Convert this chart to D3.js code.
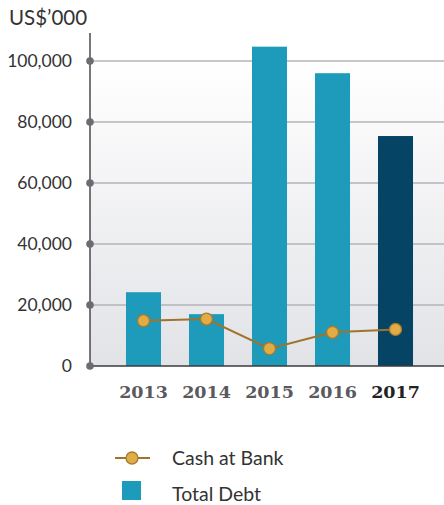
<!DOCTYPE html>
<html>
<head>
<meta charset="utf-8">
<script src="https://cdn.jsdelivr.net/npm/d3@7"></script>
<style>
  body { margin: 0; background: #fff; }
  svg { display: block; }
</style>
</head>
<body>
<div id="chart"></div>
<script>
// values (US$'000)
var years = ["2013", "2014", "2015", "2016", "2017"];
var totalDebt = [24200, 17000, 104700, 96000, 75400];
var cashAtBank = [14850, 15400, 5700, 11050, 12000];
var yTicks = [0, 20000, 40000, 60000, 80000, 100000];

var svgWidth = 444, svgHeight = 505;
var plotLeft = 90, plotRight = 444, plotTop = 61, plotBottom = 366;

var svg = d3.select("#chart").append("svg")
    .attr("width", svgWidth)
    .attr("height", svgHeight);

var defs = svg.append("defs");
var grad = defs.append("linearGradient")
    .attr("id", "bg").attr("x1", 0).attr("y1", 0).attr("x2", 0).attr("y2", 1);
grad.append("stop").attr("offset", "0%").attr("stop-color", "#ffffff");
grad.append("stop").attr("offset", "100%").attr("stop-color", "#e2e3e7");

var x = d3.scaleBand()
    .domain(years)
    .range([112, 427])
    .paddingInner(0.444)
    .paddingOuter(0.222);

var y = d3.scaleLinear()
    .domain([0, 100000])
    .range([plotBottom, plotTop]);

// plot background
svg.append("rect")
    .attr("x", plotLeft).attr("y", plotTop)
    .attr("width", plotRight - plotLeft).attr("height", plotBottom - plotTop)
    .attr("fill", "url(#bg)");

// grid lines
svg.append("g").selectAll("line")
    .data(yTicks.slice(1))
    .enter().append("line")
    .attr("x1", plotLeft).attr("x2", plotRight)
    .attr("y1", function (d) { return y(d); })
    .attr("y2", function (d) { return y(d); })
    .attr("stroke", "#b3b3bb")
    .attr("stroke-width", 1.5);

// bars
svg.append("g").selectAll("rect")
    .data(totalDebt)
    .enter().append("rect")
    .attr("x", function (d, i) { return x(years[i]); })
    .attr("y", function (d) { return y(d); })
    .attr("width", x.bandwidth())
    .attr("height", function (d) { return plotBottom - y(d); })
    .attr("fill", function (d, i) { return i == years.length - 1 ? "#054464" : "#1e9bbb"; });

// axes
svg.append("line")
    .attr("x1", plotLeft).attr("x2", plotLeft)
    .attr("y1", 33).attr("y2", plotBottom)
    .attr("stroke", "#4a4a4e").attr("stroke-width", 1.5);
svg.append("line")
    .attr("x1", plotLeft).attr("x2", plotRight)
    .attr("y1", plotBottom).attr("y2", plotBottom)
    .attr("stroke", "#3a3a3e").attr("stroke-width", 1.5);

var yAxis = svg.append("g");
yAxis.selectAll("circle")
    .data(yTicks)
    .enter().append("circle")
    .attr("cx", plotLeft)
    .attr("cy", function (d) { return y(d); })
    .attr("r", 3.8)
    .attr("fill", "#6b6b70");
yAxis.selectAll("text")
    .data(yTicks)
    .enter().append("text")
    .attr("x", 72)
    .attr("y", function (d) { return y(d); })
    .attr("dy", "0.34em")
    .attr("text-anchor", "end")
    .attr("font-family", "Lato, sans-serif")
    .attr("font-size", 17.5)
    .attr("fill", "#333")
    .text(function (d) { return d3.format(",")(d); });

svg.append("text")
    .attr("x", 9).attr("y", 25)
    .attr("font-family", "Lato, sans-serif")
    .attr("font-size", 20.5)
    .attr("fill", "#333")
    .text("US$\u2019000");

// x labels
svg.append("g").selectAll("text")
    .data(years)
    .enter().append("text")
    .attr("x", function (d) { return x(d) + x.bandwidth() / 2; })
    .attr("y", 398)
    .attr("text-anchor", "middle")
    .attr("font-family", "'DejaVu Serif', serif")
    .attr("font-weight", "bold")
    .attr("font-size", 17.5)
    .attr("fill", function (d, i) { return i == years.length - 1 ? "#222" : "#5a5a5e"; })
    .text(function (d) { return d; });

// cash line
var line = d3.line()
    .x(function (d, i) { return x(years[i]) + x.bandwidth() / 2; })
    .y(function (d) { return y(d); });

svg.append("path")
    .datum(cashAtBank)
    .attr("d", line)
    .attr("fill", "none")
    .attr("stroke", "#a0732d")
    .attr("stroke-width", 2);

svg.append("g").selectAll("circle")
    .data(cashAtBank)
    .enter().append("circle")
    .attr("cx", function (d, i) { return x(years[i]) + x.bandwidth() / 2; })
    .attr("cy", function (d) { return y(d); })
    .attr("r", 6)
    .attr("fill", "#e0ac45")
    .attr("stroke", "#a87a2c")
    .attr("stroke-width", 1.3);

// legend
var legend = svg.append("g");
legend.append("line")
    .attr("x1", 115).attr("x2", 150)
    .attr("y1", 458).attr("y2", 458)
    .attr("stroke", "#a0732d").attr("stroke-width", 2);
legend.append("circle")
    .attr("cx", 132).attr("cy", 458).attr("r", 6)
    .attr("fill", "#e0ac45").attr("stroke", "#a87a2c").attr("stroke-width", 1.3);
legend.append("rect")
    .attr("x", 122).attr("y", 481)
    .attr("width", 19).attr("height", 19)
    .attr("fill", "#1e9bbb");
legend.append("text")
    .attr("x", 172).attr("y", 465)
    .attr("font-family", "Lato, sans-serif")
    .attr("font-size", 19.5)
    .attr("fill", "#333")
    .text("Cash at Bank");
legend.append("text")
    .attr("x", 172).attr("y", 501)
    .attr("font-family", "Lato, sans-serif")
    .attr("font-size", 19.5)
    .attr("fill", "#333")
    .text("Total Debt");
</script>
</body>
</html>
